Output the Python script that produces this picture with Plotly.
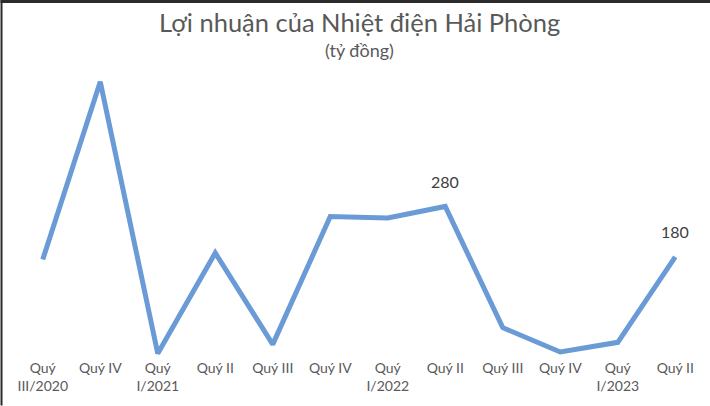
import plotly.graph_objects as go

categories = ["Quý<br>III/2020", "Quý IV", "Quý<br>I/2021", "Quý II", "Quý III", "Quý IV",
              "Quý<br>I/2022", "Quý II", "Quý III", "Quý IV", "Quý<br>I/2023", "Quý II"]
profit = [175, 527, -11, 188, 7, 260, 257, 280, 40, -8, 11, 180]
labelled = [7, 11]

x_idx = list(range(len(categories)))

FONT = "Lato"
W, H = 710, 406
ML, MR, MT, MB = 13.5, 6, 65, 47.5
plot_h = H - MT - MB
plot_w = W - ML - MR


def py2paper(py):
    return (H - MB - py) / plot_h


fig = go.Figure()
fig.add_trace(go.Scatter(
    x=x_idx, y=profit, mode="lines",
    line=dict(color="#6a9bd6", width=5),
    cliponaxis=False, hoverinfo="skip",
))

annotations = [
    dict(text="Lợi nhuận của Nhiệt điện Hải Phòng", x=0.5, y=py2paper(22), xref="paper", yref="paper",
         yanchor="middle", showarrow=False, font=dict(family=FONT, size=25.5, color="#595959")),
    dict(text="(tỷ đồng)", x=0.5, y=py2paper(50), xref="paper", yref="paper",
         yanchor="middle", showarrow=False, font=dict(family=FONT, size=18, color="#595959")),
]
for i in labelled:
    annotations.append(dict(text=str(profit[i]), x=x_idx[i], y=profit[i], xref="x", yref="y",
                            yshift=25, yanchor="middle", showarrow=False,
                            font=dict(family=FONT, size=16, color="#404040")))

fig.update_layout(
    width=W, height=H,
    margin=dict(l=ML, r=MR, t=MT, b=MB),
    paper_bgcolor="white", plot_bgcolor="white",
    showlegend=False,
    xaxis=dict(
        tickmode="array", tickvals=x_idx, ticktext=categories,
        range=[-0.5, len(categories) - 0.5],
        showgrid=False, zeroline=False, showline=False,
        ticks="", tickfont=dict(family=FONT, size=14, color="#595959"),
        fixedrange=True,
    ),
    yaxis=dict(range=[-20, 560], visible=False, showgrid=False, zeroline=False, fixedrange=True),
    annotations=annotations,
)

# thin dark strips at the top and left edge (window frame in the reference)
fig.add_shape(type="rect", xref="paper", yref="paper",
              x0=-ML / plot_w, x1=1 + MR / plot_w, y0=py2paper(3), y1=py2paper(0),
              fillcolor="#2b2b2b", line=dict(width=0), layer="above")
fig.add_shape(type="rect", xref="paper", yref="paper",
              x0=-ML / plot_w, x1=(2 - ML) / plot_w, y0=py2paper(H), y1=py2paper(0),
              fillcolor="#2b2b2b", line=dict(width=0), layer="above")

fig.write_html("out.html", config={"displayModeBar": False},
               post_script="document.body.style.margin='0px';")
